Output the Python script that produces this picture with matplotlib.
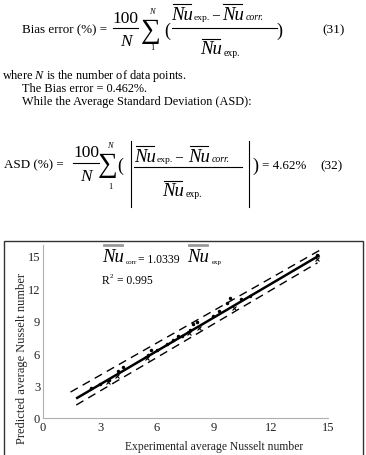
import matplotlib
matplotlib.use("Agg")
import matplotlib.pyplot as plt
from matplotlib.lines import Line2D
from matplotlib.patches import Rectangle

W, H = 366, 456
SERIF = ['Liberation Serif', 'DejaVu Serif']
plt.rcParams['mathtext.fontset'] = 'custom'
plt.rcParams['mathtext.rm'] = 'Liberation Serif'
plt.rcParams['mathtext.it'] = 'Liberation Serif:italic'

# data
exp_dot = [2.55, 3.0, 3.45, 3.95, 4.2, 5.5, 5.7, 6.0, 6.5, 6.85, 7.1, 7.3, 7.75, 7.9, 8.1, 8.95, 9.25, 9.7, 9.85, 10.4, 10.9, 14.4]
pred_dot = [2.75, 3.15, 3.55, 4.35, 4.75, 5.8, 6.25, 6.3, 6.8, 7.25, 7.6, 7.6, 8.15, 8.65, 8.85, 9.4, 9.85, 10.6, 11.1, 11.0, 11.3, 15.1]
exp_x = [3.4, 3.9, 5.45, 7.7, 8.2, 10.05, 14.4]
pred_x = [3.3, 3.85, 5.55, 7.85, 8.35, 10.15, 14.75]
fit_x = [1.8, 14.5]
fit_y = [1.86, 14.99]
upper_x = [1.45, 14.55]
upper_y = [2.4, 15.5]
lower_x = [1.75, 14.45]
lower_y = [1.2, 14.36]
ticks = [0, 3, 6, 9, 12, 15]

fig = plt.figure(figsize=(W / 100, H / 100), dpi=100)


def fx(x):
    return x / W


def fy(y):
    return 1 - y / H


def txt(x, y, s, size, ha='left', style='normal', color='black'):
    fig.text(fx(x), fy(y), s, fontsize=size, ha=ha, va='center', style=style,
             family=SERIF, color=color)


def hline(x0, x1, y, lw=0.8, color='black'):
    fig.add_artist(Line2D([fx(x0), fx(x1)], [fy(y), fy(y)], lw=lw, color=color,
                          transform=fig.transFigure))


def vline(x, y0, y1, lw=0.8):
    fig.add_artist(Line2D([fx(x), fx(x)], [fy(y0), fy(y1)], lw=lw, color='black',
                          transform=fig.transFigure))


def nu(x, y, size=13.5, bar_color='black', bar_lw=0.8, bar_dy=10):
    txt(x, y, 'Nu', size, style='italic')
    hline(x + 1.5, x + size * 1.5, y - bar_dy, lw=bar_lw, color=bar_color)


# equation (31)
txt(22, 30, 'Bias error (%) =', 9.4)
txt(125.5, 19, '100', 12.5, ha='center')
hline(113, 138, 29)
txt(125.5, 42, 'N', 12.5, ha='center', style='italic')
txt(151, 31, '\u2211', 20, ha='center')
txt(152, 12, 'N', 6, ha='center', style='italic')
txt(152, 48, '1', 6, ha='center')
txt(164, 31, '(', 13)
nu(171, 15)
txt(194, 18, 'exp.', 6.8)
txt(212, 16, '\u2013', 10)
nu(222, 15)
txt(246, 18, 'corr.', 7, style='italic')
hline(172, 277, 29)
txt(276, 31, ')', 13)
nu(200, 50)
txt(224, 53, 'exp.', 7)
txt(322, 30, '(31)', 9.6)

# body text
txt(2, 76, 'where $N$ is the number of data points.', 8.8)
txt(22, 89, 'The Bias error = 0.462%.', 8.8)
txt(22, 102, 'While the Average Standard Deviation (ASD):', 8.8)

# equation (32)
txt(4, 165, 'ASD (%) =', 9.4)
txt(86, 153, '100', 12.5, ha='center')
hline(73, 99, 164)
txt(86, 177, 'N', 12.5, ha='center', style='italic')
txt(108, 166, '\u2211', 20, ha='center')
txt(110, 146, 'N', 6, ha='center', style='italic')
txt(110, 187, '1', 6, ha='center')
txt(117, 166, '(', 13)
vline(131, 142, 208)
nu(134, 157)
txt(157, 160, 'exp.', 6.8)
txt(175, 158, '\u2013', 10)
nu(188, 157)
txt(212, 160, 'corr.', 7, style='italic')
hline(134, 242, 168)
nu(162, 192)
txt(186, 195, 'exp.', 7)
vline(249, 142, 208)
txt(252, 166, ')', 13)
txt(262, 166, '= 4.62%', 9.4)
txt(320, 166, '(32)', 9.6)

# chart frame
fig.add_artist(Rectangle((fx(4), fy(470)), (363 - 4) / W, (470 - 242) / H, fill=False,
                         lw=1.0, edgecolor='#333333', transform=fig.transFigure))

ax = fig.add_axes([fx(43), fy(419), (328 - 43) / W, (419 - 246) / H])
ax.plot(upper_x, upper_y, color='black', lw=1.0, dashes=(6, 4))
ax.plot(lower_x, lower_y, color='black', lw=1.0, dashes=(6, 4))
ax.plot(fit_x, fit_y, color='black', lw=1.8)
ax.plot(exp_dot, pred_dot, '.', color='black', ms=3)
ax.plot(exp_x, pred_x, 'x', color='black', ms=2.5, mew=0.8)
ax.set_xlim(0, 15)
ax.set_ylim(0, 16)
ax.set_xticks(ticks)
ax.set_yticks(ticks)
ax.tick_params(length=0, pad=2, labelsize=9, labelcolor='#222222')
for lab in ax.get_xticklabels() + ax.get_yticklabels():
    lab.set_family(SERIF)
for side in ['top', 'right']:
    ax.spines[side].set_visible(False)
for side in ['left', 'bottom']:
    ax.spines[side].set_color('#b0b0b0')
    ax.spines[side].set_linewidth(0.8)

fig.text(fx(214), fy(447), 'Experimental average Nusselt number', fontsize=8.4,
         ha='center', va='center', family=SERIF, color='#222222')
fig.text(fx(22), fy(359), 'Predicted average Nusselt number', fontsize=9,
         ha='center', va='center', rotation=90, family=SERIF, color='#222222')

# correlation label inside chart
nu(102, 258, size=13.5, bar_color='#999999', bar_lw=2.0, bar_dy=12)
txt(126, 263, 'corr', 5)
txt(138, 260, '= 1.0339', 8.4)
nu(187, 257, size=13.5, bar_color='#999999', bar_lw=2.0, bar_dy=11)
txt(212, 263, 'exp', 5)
txt(102, 281, 'R', 8.4)
txt(110, 277, '2', 5)
txt(117, 281, '= 0.995', 8.4)

fig.savefig('out.png', dpi=100)
